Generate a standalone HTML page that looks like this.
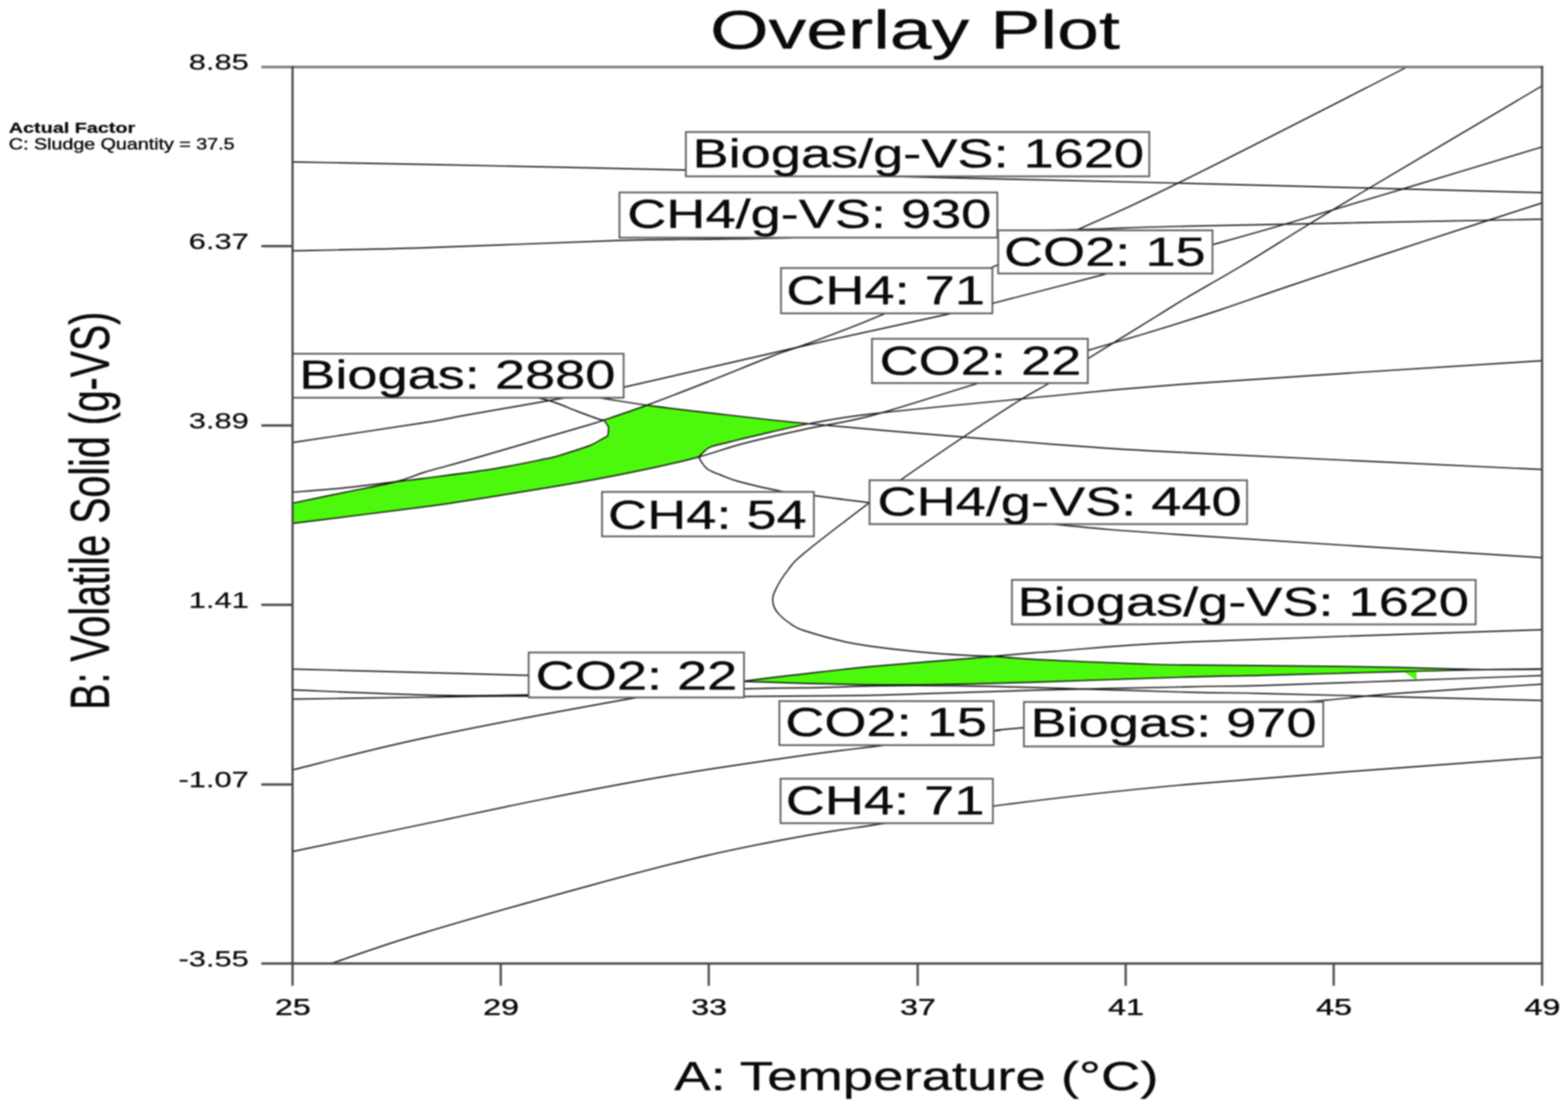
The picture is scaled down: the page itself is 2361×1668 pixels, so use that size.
<!DOCTYPE html>
<html lang="en"><head><meta charset="utf-8"><title>Overlay Plot</title>
<style>html,body{margin:0;padding:0;background:#fff}body{width:2361px;height:1668px;overflow:hidden}svg{display:block}.soft{filter:blur(0.9px)}text{font-family:"Liberation Sans",Arial,Helvetica,sans-serif;fill:#0a0a0a}</style>
</head><body>
<svg width="2361" height="1668" viewBox="0 0 2361 1668" role="img" aria-label="Overlay Plot">
<rect width="2361" height="1668" fill="#fff"/>
<g class="soft">
<rect width="2361" height="1668" fill="#fff"/>
<g fill="#4cf90c" stroke="none">
<path d="M440.0 757.6 C453.3 754.8 493.8 746.4 520.0 741.0 C546.2 735.6 577.2 730.0 597.0 725.0 C616.8 722.6 615.3 723.1 639.0 720.0 C662.7 716.9 708.8 711.3 739.0 706.5 C769.2 701.7 803.2 694.4 820.0 691.0 C836.8 687.6 829.0 689.5 840.0 686.3 C851.0 683.0 875.8 675.2 886.0 671.5 C896.2 667.8 896.4 666.4 901.0 664.0 C905.6 661.6 911.1 658.7 913.5 657.0 C915.9 655.3 915.1 656.4 915.5 654.0 C915.9 651.6 916.2 644.8 916.0 642.5 C915.8 640.2 915.7 641.6 914.5 640.0 C913.3 638.4 911.4 634.6 909.0 633.0 C923.2 627.7 948.2 619.5 974.0 610.0 C1001.1 613.7 1023.3 616.4 1064.0 621.0 C1104.7 625.6 1153.6 631.7 1218.0 637.9 C1189.0 643.3 1158.7 651.0 1139.0 655.5 C1119.3 660.0 1111.4 662.1 1100.0 665.0 C1088.6 667.9 1077.2 670.1 1070.5 672.6 C1063.8 675.1 1063.1 677.4 1060.0 680.0 C1056.9 682.6 1053.3 686.7 1052.0 688.0 C1030.2 693.9 1016.2 697.2 989.0 703.0 C961.8 708.8 926.5 716.2 889.0 723.0 C851.5 729.8 805.7 737.3 764.0 744.0 C722.3 750.7 693.0 755.7 639.0 763.0 C585.0 770.3 473.2 783.8 440.0 788.0 Z"/>
<path d="M1124.0 1025.0 C1166.3 1019.0 1183.7 1017.7 1213.0 1014.2 C1242.3 1010.8 1268.8 1007.5 1300.0 1004.5 C1331.2 1001.5 1372.8 998.2 1400.0 996.0 C1427.2 993.8 1447.1 992.3 1463.0 991.0 C1478.9 989.7 1479.5 989.4 1495.5 988.0 C1512.2 989.0 1526.8 991.1 1563.0 993.0 C1599.2 994.9 1675.7 997.9 1713.0 999.2 C1750.3 1000.6 1733.0 1000.3 1787.0 1001.0 C1841.0 1001.7 1968.0 1002.5 2037.0 1003.5 C2106.0 1004.5 2167.2 1006.5 2201.0 1007.2 C2234.8 1008.0 2219.8 1007.9 2240.0 1008.0 C2219.8 1008.3 2224.2 1008.4 2201.0 1008.9 C2177.8 1009.4 2134.5 1010.3 2101.0 1011.2 C2067.5 1012.1 2033.5 1013.2 2000.0 1014.1 C1966.5 1015.0 1935.5 1015.9 1900.0 1016.8 C1864.5 1017.6 1843.8 1017.5 1787.0 1019.2 C1730.2 1020.9 1616.8 1025.2 1559.0 1027.0 C1501.2 1028.8 1476.5 1029.3 1440.0 1030.0 C1403.5 1030.7 1376.7 1031.2 1340.0 1031.0 C1303.3 1030.8 1256.0 1029.8 1220.0 1029.0 C1184.0 1028.2 1194.7 1028.0 1124.0 1026.0 Z"/>
<path d="M2115.0 1012.3 L2133.0 1012.0 L2133.0 1024.0 Z"/>
</g>
<g fill="none" stroke="#111" stroke-width="1.90" stroke-linejoin="round">
<path d="M440.0 243.8 C473.2 244.4 540.2 245.5 639.0 247.5 C737.8 249.5 916.2 253.0 1032.8 256.0 C1149.2 259.0 1212.3 262.2 1338.0 265.5 C1463.7 268.8 1623.0 271.9 1787.0 276.0 C1951.0 280.1 2232.8 287.7 2322.0 290.0"/>
<path d="M440.0 377.5 C473.2 376.8 557.0 375.6 639.0 373.0 C721.0 370.4 859.2 364.2 932.0 362.0 C1004.8 359.8 1029.2 360.8 1076.0 360.0 C1122.8 359.2 1121.5 359.9 1213.0 357.5 C1304.5 355.1 1529.3 348.3 1625.0 345.5 C1720.7 342.7 1670.8 343.1 1787.0 340.5 C1903.2 337.9 2232.8 331.8 2322.0 330.0"/>
<path d="M440.0 666.2 C473.2 661.3 595.7 643.1 639.0 636.3 C682.3 629.5 664.6 631.6 700.0 625.3 C735.4 619.0 811.7 605.8 851.5 598.8 C891.3 591.7 878.8 596.1 939.0 583.0 C999.2 569.9 1130.7 538.5 1213.0 520.0 C1295.3 501.5 1386.2 482.3 1433.0 471.8 C1479.8 461.2 1455.7 466.5 1494.0 456.8 C1532.3 447.0 1607.5 427.8 1663.0 413.0 C1718.5 398.2 1781.3 380.7 1827.0 368.0 C1872.7 355.3 1888.7 350.9 1937.0 336.8 C1985.3 322.6 2052.8 302.2 2117.0 283.0 C2181.2 263.8 2287.8 231.5 2322.0 221.2"/>
<path d="M440.0 757.6 C453.3 754.8 493.8 746.4 520.0 741.0 C546.2 735.6 577.2 730.0 597.0 725.0 C616.8 720.0 621.8 716.2 639.0 711.0 C656.2 705.8 679.2 699.9 700.0 694.0 C720.8 688.1 744.0 681.3 764.0 675.5 C784.0 669.7 799.2 665.1 820.0 659.0 C840.8 652.9 874.2 643.4 889.0 639.0 C903.8 634.6 894.8 637.3 909.0 632.5 C923.2 627.7 948.2 619.5 974.0 610.0 C999.8 600.5 1032.3 587.9 1064.0 575.5 C1095.7 563.1 1139.2 545.0 1164.0 535.5 C1188.8 526.0 1184.8 529.1 1213.0 518.5 C1241.2 507.9 1265.1 500.4 1333.0 471.8 C1400.9 443.1 1544.8 380.5 1620.5 346.8 C1696.2 313.0 1703.8 310.3 1787.0 269.2 C1870.2 228.2 2064.1 128.6 2119.5 100.5"/>
<path d="M440.0 741.0 C453.3 739.9 493.8 737.0 520.0 734.3 C546.2 731.6 577.2 727.4 597.0 725.0 C616.8 722.6 615.3 723.1 639.0 720.0 C662.7 716.9 708.8 711.3 739.0 706.5 C769.2 701.7 803.2 694.4 820.0 691.0 C836.8 687.6 829.0 689.5 840.0 686.3 C851.0 683.0 875.8 675.2 886.0 671.5 C896.2 667.8 896.4 666.4 901.0 664.0 C905.6 661.6 911.1 658.7 913.5 657.0 C915.9 655.3 915.1 656.4 915.5 654.0 C915.9 651.6 916.2 644.8 916.0 642.5 C915.8 640.2 915.7 641.6 914.5 640.0 C913.3 638.4 911.4 634.6 909.0 633.0 C906.6 631.4 906.5 632.8 900.0 630.5 C893.5 628.2 880.0 623.3 870.0 619.5 C860.0 615.7 848.5 610.6 840.0 607.5 C831.5 604.4 827.5 603.1 819.0 601.0 C810.5 598.9 798.8 596.5 789.0 595.0 C779.2 593.5 764.8 592.5 760.0 592.0"/>
<path d="M880.0 596.0 C883.6 596.5 885.8 596.4 901.5 598.8 C917.2 601.1 946.9 606.3 974.0 610.0 C1001.1 613.7 1023.3 616.4 1064.0 621.0 C1104.7 625.6 1153.6 631.7 1218.0 637.9 C1282.4 644.1 1382.6 652.4 1450.5 658.0 C1518.4 663.6 1569.4 667.8 1625.5 671.8 C1681.6 675.7 1670.9 675.7 1787.0 681.5 C1903.1 687.3 2232.8 702.5 2322.0 706.8"/>
<path d="M440.0 788.0 C473.2 783.8 585.0 770.3 639.0 763.0 C693.0 755.7 722.3 750.7 764.0 744.0 C805.7 737.3 851.5 729.8 889.0 723.0 C926.5 716.2 961.8 708.8 989.0 703.0 C1016.2 697.2 1030.2 693.9 1052.0 688.0 C1073.8 682.1 1093.2 674.5 1120.0 667.5 C1146.8 660.5 1180.8 653.0 1213.0 646.0 C1245.2 639.0 1269.7 637.0 1313.0 625.5 C1356.3 614.0 1418.8 593.1 1473.0 576.8 C1527.2 560.4 1593.5 540.7 1638.0 527.5 C1682.5 514.3 1706.3 507.7 1740.0 497.4 C1773.7 487.1 1806.7 476.6 1840.0 465.5 C1873.3 454.4 1898.3 445.1 1940.0 431.0 C1981.7 416.9 2039.2 397.8 2090.0 381.0 C2140.8 364.2 2205.8 343.1 2244.5 330.5 C2283.2 317.9 2309.1 309.7 2322.0 305.5"/>
<path d="M1052.0 688.0 C1053.3 686.7 1056.9 682.6 1060.0 680.0 C1063.1 677.4 1063.8 675.1 1070.5 672.6 C1077.2 670.1 1088.6 667.9 1100.0 665.0 C1111.4 662.1 1119.3 660.0 1139.0 655.5 C1158.7 651.0 1189.0 643.3 1218.0 637.9 C1247.0 632.5 1259.7 629.2 1313.0 623.0 C1366.3 616.8 1459.0 608.0 1538.0 600.5 C1617.0 593.0 1656.3 587.6 1787.0 578.0 C1917.7 568.4 2232.8 548.8 2322.0 543.0"/>
<path d="M1052.0 688.0 C1053.0 689.7 1055.6 694.8 1058.0 698.0 C1060.4 701.2 1062.0 704.2 1066.5 707.0 C1071.0 709.8 1077.0 711.9 1085.0 715.0 C1093.0 718.1 1098.8 721.3 1114.4 725.5 C1130.0 729.7 1159.9 736.6 1178.4 740.0 C1196.9 743.4 1203.7 743.2 1225.5 746.0 C1247.3 748.8 1248.6 749.5 1309.0 756.8 C1369.4 764.0 1508.3 781.1 1588.0 789.2 C1667.7 797.4 1664.7 797.1 1787.0 805.5 C1909.3 813.9 2232.8 833.8 2322.0 839.5"/>
<path d="M2322.0 129.2 C2278.7 154.9 2120.8 248.1 2062.0 283.0 C2003.2 317.9 2001.3 319.1 1969.5 338.5 C1937.7 357.9 1901.4 381.1 1871.0 399.3 C1840.6 417.6 1808.8 435.1 1787.0 448.0 C1765.2 460.9 1764.8 461.7 1740.0 477.0 C1715.2 492.3 1664.7 523.4 1638.0 540.0 C1611.3 556.6 1596.7 566.6 1580.0 576.8 C1563.3 586.9 1559.6 587.5 1538.0 601.0 C1516.4 614.5 1480.9 637.7 1450.5 658.0 C1420.1 678.3 1379.1 706.5 1355.5 723.0 C1331.9 739.5 1332.8 738.8 1309.0 756.8 C1285.2 774.8 1233.4 814.1 1213.0 831.0 C1192.6 847.9 1194.2 848.1 1186.5 858.0 C1178.8 867.9 1170.2 882.2 1166.5 890.5 C1162.8 898.8 1163.2 902.6 1164.0 908.0 C1164.8 913.4 1167.3 918.0 1171.5 923.0 C1175.7 928.0 1182.1 933.5 1189.0 938.0 C1195.9 942.5 1196.5 944.8 1213.0 950.0 C1229.5 955.2 1258.8 964.0 1288.0 969.2 C1317.2 974.5 1358.8 978.8 1388.0 981.8 C1417.2 984.7 1445.1 986.0 1463.0 987.0 C1480.9 988.0 1478.8 987.0 1495.5 988.0 C1512.2 989.0 1526.8 991.1 1563.0 993.0 C1599.2 994.9 1675.7 997.9 1713.0 999.2 C1750.3 1000.6 1733.0 1000.3 1787.0 1001.0 C1841.0 1001.7 1968.0 1002.5 2037.0 1003.5 C2106.0 1004.5 2167.2 1006.5 2201.0 1007.2 C2234.8 1008.0 2219.8 1007.9 2240.0 1008.0 C2260.2 1008.1 2308.3 1007.7 2322.0 1007.6"/>
<path d="M440.0 1159.2 C473.2 1151.2 552.5 1129.2 639.0 1111.0 C725.5 1092.8 878.2 1064.3 959.0 1050.0 C1039.8 1035.7 1081.7 1031.0 1124.0 1025.0 C1166.3 1019.0 1183.7 1017.7 1213.0 1014.2 C1242.3 1010.8 1268.8 1007.5 1300.0 1004.5 C1331.2 1001.5 1372.8 998.2 1400.0 996.0 C1427.2 993.8 1447.1 992.3 1463.0 991.0 C1478.9 989.7 1479.5 989.4 1495.5 988.0 C1511.5 986.6 1543.6 983.8 1559.0 982.5 C1574.4 981.2 1550.0 983.2 1588.0 980.5 C1626.0 977.8 1664.7 971.9 1787.0 966.5 C1909.3 961.1 2232.8 951.1 2322.0 948.0"/>
<path d="M440.0 1007.2 C473.2 1008.1 579.7 1010.9 639.0 1012.5 C698.3 1014.1 715.2 1014.5 796.0 1016.8 C876.8 1019.0 1053.3 1024.0 1124.0 1026.0 C1194.7 1028.0 1184.0 1028.2 1220.0 1029.0 C1256.0 1029.8 1303.3 1030.8 1340.0 1031.0 C1376.7 1031.2 1403.5 1030.7 1440.0 1030.0 C1476.5 1029.3 1501.2 1028.8 1559.0 1027.0 C1616.8 1025.2 1730.2 1020.9 1787.0 1019.2 C1843.8 1017.5 1864.5 1017.6 1900.0 1016.8 C1935.5 1015.9 1966.5 1015.0 2000.0 1014.1 C2033.5 1013.2 2067.5 1012.1 2101.0 1011.2 C2134.5 1010.3 2177.8 1009.4 2201.0 1008.9 C2224.2 1008.4 2219.8 1008.3 2240.0 1008.0 C2260.2 1007.7 2308.3 1007.2 2322.0 1007.0"/>
<path d="M440.0 1038.5 C473.2 1039.8 579.7 1045.0 639.0 1046.2 C698.3 1047.5 715.8 1047.5 796.0 1046.0 C876.2 1044.5 1046.0 1038.8 1120.0 1037.0 C1194.0 1035.2 1206.7 1035.8 1240.0 1035.0 C1273.3 1034.2 1286.7 1032.9 1320.0 1032.5 C1353.3 1032.1 1400.2 1032.1 1440.0 1032.5 C1479.8 1032.9 1501.2 1033.4 1559.0 1035.0 C1616.8 1036.6 1730.2 1040.5 1787.0 1042.0 C1843.8 1043.5 1847.7 1042.8 1900.0 1044.0 C1952.3 1045.2 2030.7 1047.2 2101.0 1049.0 C2171.3 1050.8 2285.2 1053.6 2322.0 1054.5"/>
<path d="M440.0 1052.5 C473.2 1052.0 579.7 1050.3 639.0 1049.6 C698.3 1048.8 715.8 1048.2 796.0 1048.0 C876.2 1047.8 1036.0 1048.7 1120.0 1048.5 C1204.0 1048.3 1253.3 1047.8 1300.0 1047.0 C1346.7 1046.2 1356.8 1045.3 1400.0 1044.0 C1443.2 1042.7 1494.5 1040.7 1559.0 1039.0 C1623.5 1037.3 1730.2 1035.2 1787.0 1034.0 C1843.8 1032.8 1847.7 1033.5 1900.0 1032.0 C1952.3 1030.5 2030.7 1027.5 2101.0 1025.0 C2171.3 1022.5 2285.2 1018.3 2322.0 1017.0"/>
<path d="M440.0 1282.0 C473.2 1275.1 575.7 1253.6 639.0 1240.4 C702.3 1227.2 759.8 1214.5 820.0 1202.6 C880.2 1190.7 934.5 1180.0 1000.0 1169.0 C1065.5 1158.0 1157.5 1144.6 1213.0 1136.8 C1268.5 1128.9 1285.7 1127.8 1333.0 1121.8 C1380.3 1115.7 1462.4 1104.9 1497.0 1100.5 C1531.6 1096.1 1458.0 1103.2 1540.5 1095.5 C1623.0 1087.8 1898.6 1063.1 1992.0 1054.5 C2085.4 1045.9 2046.0 1048.1 2101.0 1044.0 C2156.0 1039.9 2285.2 1032.3 2322.0 1030.0"/>
<path d="M500.0 1450.0 C523.2 1442.3 574.2 1423.5 639.0 1404.0 C703.8 1384.5 818.2 1352.3 889.0 1333.0 C959.8 1313.7 1010.0 1300.5 1064.0 1288.0 C1118.0 1275.5 1168.2 1266.1 1213.0 1258.0 C1257.8 1249.9 1285.9 1246.7 1333.0 1239.2 C1380.1 1231.8 1419.8 1223.2 1495.5 1213.5 C1571.2 1203.8 1649.2 1193.2 1787.0 1181.0 C1924.8 1168.8 2232.8 1146.8 2322.0 1140.0"/>
</g>
<rect x="1032.75" y="198.75" width="697.75" height="66.75" fill="#fff" stroke="#5c5c5c" stroke-width="2.60"/>
<rect x="932.75" y="289.75" width="569.00" height="68.00" fill="#fff" stroke="#5c5c5c" stroke-width="2.60"/>
<rect x="1503.00" y="346.75" width="322.75" height="65.00" fill="#fff" stroke="#5c5c5c" stroke-width="2.60"/>
<rect x="1176.00" y="403.50" width="318.25" height="68.25" fill="#fff" stroke="#5c5c5c" stroke-width="2.60"/>
<rect x="1313.00" y="510.00" width="325.00" height="66.75" fill="#fff" stroke="#5c5c5c" stroke-width="2.60"/>
<rect x="440.50" y="532.50" width="498.50" height="66.25" fill="#fff" stroke="#5c5c5c" stroke-width="2.60"/>
<rect x="906.50" y="740.50" width="319.00" height="67.00" fill="#fff" stroke="#5c5c5c" stroke-width="2.60"/>
<rect x="1309.25" y="723.00" width="568.50" height="66.00" fill="#fff" stroke="#5c5c5c" stroke-width="2.60"/>
<rect x="1523.75" y="873.00" width="698.25" height="67.00" fill="#fff" stroke="#5c5c5c" stroke-width="2.60"/>
<rect x="796.00" y="982.25" width="324.25" height="67.75" fill="#fff" stroke="#5c5c5c" stroke-width="2.60"/>
<rect x="1173.50" y="1055.50" width="322.75" height="66.25" fill="#fff" stroke="#5c5c5c" stroke-width="2.60"/>
<rect x="1541.75" y="1056.75" width="450.75" height="67.00" fill="#fff" stroke="#5c5c5c" stroke-width="2.60"/>
<rect x="1175.25" y="1172.25" width="319.75" height="67.00" fill="#fff" stroke="#5c5c5c" stroke-width="2.60"/>
<text transform="translate(1042.87 251.75) scale(1.3190 1)" font-size="61.80" text-anchor="start" font-weight="normal" stroke="#0a0a0a" stroke-width="0.45">Biogas/g-VS: 1620</text>
<text transform="translate(944.50 343.00) scale(1.3190 1)" font-size="61.80" text-anchor="start" font-weight="normal" stroke="#0a0a0a" stroke-width="0.45">CH4/g-VS: 930</text>
<text transform="translate(1511.75 400.00) scale(1.3190 1)" font-size="61.80" text-anchor="start" font-weight="normal" stroke="#0a0a0a" stroke-width="0.45">CO2: 15</text>
<text transform="translate(1184.00 458.00) scale(1.3190 1)" font-size="61.80" text-anchor="start" font-weight="normal" stroke="#0a0a0a" stroke-width="0.45">CH4: 71</text>
<text transform="translate(1324.50 563.50) scale(1.3190 1)" font-size="61.80" text-anchor="start" font-weight="normal" stroke="#0a0a0a" stroke-width="0.45">CO2: 22</text>
<text transform="translate(450.62 585.00) scale(1.3190 1)" font-size="61.80" text-anchor="start" font-weight="normal" stroke="#0a0a0a" stroke-width="0.45">Biogas: 2880</text>
<text transform="translate(915.62 795.50) scale(1.3190 1)" font-size="61.80" text-anchor="start" font-weight="normal" stroke="#0a0a0a" stroke-width="0.45">CH4: 54</text>
<text transform="translate(1321.37 775.50) scale(1.3190 1)" font-size="61.80" text-anchor="start" font-weight="normal" stroke="#0a0a0a" stroke-width="0.45">CH4/g-VS: 440</text>
<text transform="translate(1532.25 926.75) scale(1.3190 1)" font-size="61.80" text-anchor="start" font-weight="normal" stroke="#0a0a0a" stroke-width="0.45">Biogas/g-VS: 1620</text>
<text transform="translate(806.62 1037.50) scale(1.3190 1)" font-size="61.80" text-anchor="start" font-weight="normal" stroke="#0a0a0a" stroke-width="0.45">CO2: 22</text>
<text transform="translate(1182.50 1108.00) scale(1.3190 1)" font-size="61.80" text-anchor="start" font-weight="normal" stroke="#0a0a0a" stroke-width="0.45">CO2: 15</text>
<text transform="translate(1551.75 1108.75) scale(1.3190 1)" font-size="61.80" text-anchor="start" font-weight="normal" stroke="#0a0a0a" stroke-width="0.45">Biogas: 970</text>
<text transform="translate(1183.20 1225.50) scale(1.3190 1)" font-size="61.80" text-anchor="start" font-weight="normal" stroke="#0a0a0a" stroke-width="0.45">CH4: 71</text>
<g fill="none" stroke="#484848" stroke-width="3.30">
<path d="M393.5 100.8 H2323.5" stroke="#7a7a7a" stroke-width="3.7"/>
<path d="M393.5 1450.5 H2323.5"/>
<path d="M440.5 99.0 V1484"/>
<path d="M2322.0 99.0 V1484"/>
<path d="M393.5 370.5 H440.5"/>
<path d="M393.5 640.5 H440.5"/>
<path d="M393.5 910.5 H440.5"/>
<path d="M393.5 1181.0 H440.5"/>
<path d="M754.0 1450.5 V1484"/>
<path d="M1067.2 1450.5 V1484"/>
<path d="M1381.8 1450.5 V1484"/>
<path d="M1695.0 1450.5 V1484"/>
<path d="M2008.2 1450.5 V1484"/>
</g>
<text transform="translate(374.60 104.90) scale(1.4160 1)" font-size="32.80" text-anchor="end" font-weight="normal" stroke="#0a0a0a" stroke-width="0.30">8.85</text>
<text transform="translate(374.60 374.90) scale(1.4160 1)" font-size="32.80" text-anchor="end" font-weight="normal" stroke="#0a0a0a" stroke-width="0.30">6.37</text>
<text transform="translate(374.60 644.90) scale(1.4160 1)" font-size="32.80" text-anchor="end" font-weight="normal" stroke="#0a0a0a" stroke-width="0.30">3.89</text>
<text transform="translate(374.60 914.90) scale(1.4160 1)" font-size="32.80" text-anchor="end" font-weight="normal" stroke="#0a0a0a" stroke-width="0.30">1.41</text>
<text transform="translate(374.60 1185.40) scale(1.4160 1)" font-size="32.80" text-anchor="end" font-weight="normal" stroke="#0a0a0a" stroke-width="0.30">-1.07</text>
<text transform="translate(374.60 1454.90) scale(1.4160 1)" font-size="32.80" text-anchor="end" font-weight="normal" stroke="#0a0a0a" stroke-width="0.30">-3.55</text>
<text transform="translate(440.90 1528.00) scale(1.3710 1)" font-size="35.30" text-anchor="middle" font-weight="normal" stroke="#0a0a0a" stroke-width="0.60">25</text>
<text transform="translate(754.40 1528.00) scale(1.3710 1)" font-size="35.30" text-anchor="middle" font-weight="normal" stroke="#0a0a0a" stroke-width="0.60">29</text>
<text transform="translate(1067.65 1528.00) scale(1.3710 1)" font-size="35.30" text-anchor="middle" font-weight="normal" stroke="#0a0a0a" stroke-width="0.60">33</text>
<text transform="translate(1382.15 1528.00) scale(1.3710 1)" font-size="35.30" text-anchor="middle" font-weight="normal" stroke="#0a0a0a" stroke-width="0.60">37</text>
<text transform="translate(1695.40 1528.00) scale(1.3710 1)" font-size="35.30" text-anchor="middle" font-weight="normal" stroke="#0a0a0a" stroke-width="0.60">41</text>
<text transform="translate(2008.65 1528.00) scale(1.3710 1)" font-size="35.30" text-anchor="middle" font-weight="normal" stroke="#0a0a0a" stroke-width="0.60">45</text>
<text transform="translate(2322.40 1528.00) scale(1.3710 1)" font-size="35.30" text-anchor="middle" font-weight="normal" stroke="#0a0a0a" stroke-width="0.60">49</text>
<text transform="translate(1377.70 73.00) scale(1.3940 1)" font-size="81.30" text-anchor="middle" font-weight="normal" stroke="#0a0a0a" stroke-width="0.50">Overlay Plot</text>
<text transform="translate(1379.75 1640.50) scale(1.3280 1)" font-size="61.80" text-anchor="middle" font-weight="normal" stroke="#0a0a0a" stroke-width="0.45">A: Temperature (°C)</text>
<text transform="translate(164.2 768.8) rotate(-90) scale(0.9587 1.362)" font-size="61.8" text-anchor="middle" stroke="#0a0a0a" stroke-width="0.4">B: Volatile Solid (g-VS)</text>
<text transform="translate(13.30 200.30) scale(1.3180 1)" font-size="22.60" text-anchor="start" font-weight="bold" stroke="#0a0a0a" stroke-width="0.30">Actual Factor</text>
<text transform="translate(13.30 225.00) scale(1.2770 1)" font-size="23.20" text-anchor="start" font-weight="normal" stroke="#0a0a0a" stroke-width="0.55">C: Sludge Quantity = 37.5</text>
</g>
</svg>
</body></html>
